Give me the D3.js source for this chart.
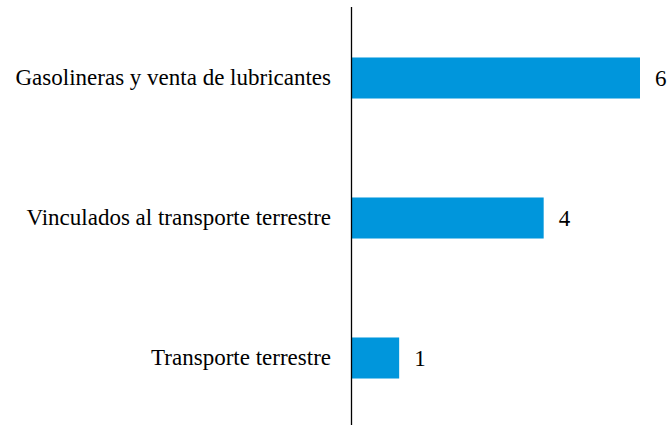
<!DOCTYPE html>
<html><head><meta charset="utf-8">
<script src="https://cdn.jsdelivr.net/npm/d3@7"></script>
<style>body{margin:0;background:#fff}svg{display:block}</style>
</head><body>
<script>
const categories = ["Gasolineras y venta de lubricantes", "Vinculados al transporte terrestre", "Transporte terrestre"];
const values = [6, 4, 1];

const W = 668, H = 425;
const x0 = 351;
const svg = d3.select("body").append("svg").attr("width", W).attr("height", H);
const x = d3.scaleLinear().domain([0, 6]).range([x0, 640]);
const y = d3.scaleBand().domain(categories).range([8, 428]).paddingInner(0.707).paddingOuter(0.3535);

svg.selectAll("rect.bar").data(categories).join("rect")
  .attr("class", "bar")
  .attr("x", x(0)).attr("y", d => y(d))
  .attr("width", (d, i) => x(values[i]) - x(0))
  .attr("height", y.bandwidth())
  .attr("fill", "#0096dc");

const yAxis = svg.append("g").attr("transform", `translate(${x0},0)`)
  .call(d3.axisLeft(y).tickSize(0).tickPadding(20));
yAxis.select(".domain").attr("d", `M0.5,7V${H}`).attr("stroke", "#000").attr("stroke-width", 1.3);
yAxis.selectAll("text").attr("font-family", "'Liberation Serif', 'Times New Roman', serif")
  .attr("font-size", 23).attr("fill", "#000");

svg.selectAll("text.val").data(categories).join("text")
  .attr("class", "val")
  .attr("x", (d, i) => x(values[i]) + 15)
  .attr("y", d => y(d) + y.bandwidth() / 2)
  .attr("dy", "0.35em")
  .attr("font-family", "'Liberation Serif', 'Times New Roman', serif")
  .attr("font-size", 23).attr("fill", "#000")
  .text((d, i) => values[i]);
</script>
</body></html>
